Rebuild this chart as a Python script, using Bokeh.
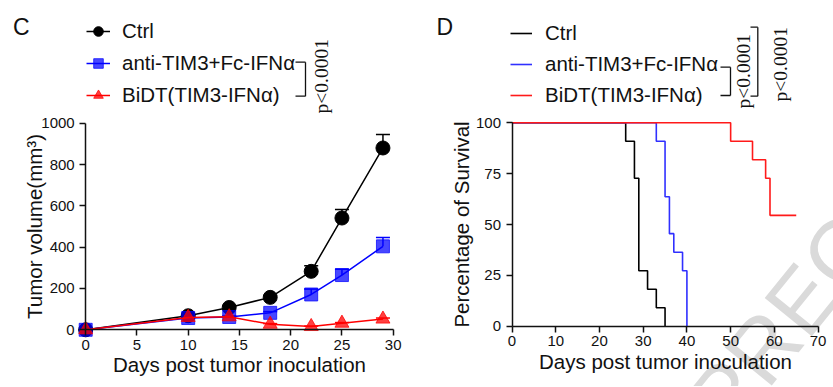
import math
from bokeh.plotting import figure
from bokeh.layouts import row
from bokeh.models import (ColumnDataSource, Whisker, TeeHead, Legend, LegendItem,
                          Label, Arrow, FixedTicker, Range1d)
from bokeh.embed import file_html
from bokeh.resources import INLINE

# ---------------- data ----------------
series_labels = ["Ctrl", "anti-TIM3+Fc-IFNα", "BiDT(TIM3-IFNα)"]

days = [0, 10, 14, 18, 22, 25, 29]
ctrl_vol = [0, 68, 108, 157, 283, 541, 880]
ctrl_sem = [0, 4, 6, 9, 27, 41, 65]
anti_vol = [0, 57, 62, 82, 171, 265, 404]
anti_sem = [0, 3, 4, 6, 26, 28, 43]
bidt_vol = [0, 60, 63, 27, 16, 32, 52]
bidt_sem = [0, 3, 4, 3, 2, 3, 5]

ctrl_t = [0, 26, 28, 29, 31, 33, 35]
ctrl_s = [100, 90.9, 72.7, 27.3, 18.2, 9.1, 0]
anti_t = [0, 33, 35, 36, 37, 39, 40]
anti_s = [100, 90.9, 63.6, 45.5, 36.4, 27.3, 0]
bidt_t = [0, 50, 55, 58, 59, 65]
bidt_s = [100, 90.9, 81.8, 72.7, 54.5, 54.5]

tumor_x_ticks = [0, 5, 10, 15, 20, 25, 30]
tumor_y_ticks = [0, 200, 400, 600, 800, 1000]
surv_x_ticks = [0, 10, 20, 30, 40, 50, 60, 70]
surv_y_ticks = [0, 25, 50, 75, 100]
p_text = "p<0.0001"

FONT = "Liberation Sans"
SERIF = "Liberation Serif"
INK = "#111111"
H = 386  # figure height (frame fills the whole figure)


def h_range(size, pa, va, pb, vb):
    """x range whose ends sit at the figure edges (value va at pixel pa, vb at pb)."""
    k = (vb - va) / (pb - pa)
    return (va - pa * k, va + (size - pa) * k)


def v_range(size, pa, va, pb, vb):
    """y range whose ends sit at the figure edges (pixels counted from the top)."""
    k = (vb - va) / (pa - pb)
    return (va - (size - pa) * k, va + pa * k)


def make_fig(w, xr, yr):
    p = figure(x_range=Range1d(*xr), y_range=Range1d(*yr), width=w, height=H,
               min_border=0, output_backend="svg", toolbar_location=None, tools="")
    p.outline_line_color = None
    p.grid.visible = False
    for ax in (p.xaxis[0], p.yaxis[0]):
        ax.fixed_location = 0
        ax.axis_line_width = 1.5
        ax.axis_line_color = INK
        ax.major_tick_line_width = 1.5
        ax.major_tick_line_color = INK
        ax.major_tick_out = 6
        ax.major_tick_in = 0
        ax.minor_tick_line_color = None
        ax.major_label_text_font = FONT
        ax.major_label_text_font_size = "15px"
        ax.major_label_text_color = INK
        ax.axis_label_text_font = FONT
        ax.axis_label_text_font_size = "20.5px"
        ax.axis_label_text_font_style = "normal"
        ax.axis_label_text_color = INK
    return p


def add_label(p, x, y, text, size, font=FONT, angle=0.0, align="left",
              baseline="alphabetic", color=INK, level="annotation"):
    # x, y: pixels from the figure's left / top
    p.add_layout(Label(x=x, y=H - y, x_units="screen", y_units="screen", text=text,
                       text_font=font, text_font_size=size, angle=angle,
                       text_align=align, text_baseline=baseline,
                       text_color=color, level=level))


def add_bracket(p, pts):
    for (x0, y0), (x1, y1) in zip(pts[:-1], pts[1:]):
        p.add_layout(Arrow(start=None, end=None, x_start=x0, y_start=H - y0,
                           x_end=x1, y_end=H - y1, start_units="screen",
                           end_units="screen", line_color=INK, line_width=1.3))


# ---------------- panel C: tumor volume (figure at page x 0) ----------------
W1 = 420
p1 = make_fig(W1, h_range(W1, 85.2, 0, 392.7, 30), v_range(H, 329.3, 0, 122.7, 1000))
p1.xaxis[0].bounds = (0, 30)
p1.yaxis[0].bounds = (0, 1000)
p1.xaxis[0].ticker = FixedTicker(ticks=tumor_x_ticks)
p1.yaxis[0].ticker = FixedTicker(ticks=tumor_y_ticks)
p1.xaxis[0].axis_label = "Days post tumor inoculation"
p1.yaxis[0].axis_label = "Tumor volume(mm³)"
p1.xaxis[0].major_label_standoff = 4
p1.xaxis[0].axis_label_standoff = 0
p1.yaxis[0].major_label_standoff = 5
p1.yaxis[0].axis_label_standoff = -8

styles = [
    ("#000000", "circle", 14, 1.0),
    ("#0000ff", "square", 13, 0.72),
    ("#ff0000", "triangle", 14, 0.75),
]
items1 = []
for vol, sem, (c, mk, sz, al), lab in zip([ctrl_vol, anti_vol, bidt_vol],
                                          [ctrl_sem, anti_sem, bidt_sem],
                                          styles, series_labels):
    src = ColumnDataSource(dict(x=days, y=vol, up=[v + e for v, e in zip(vol, sem)]))
    p1.add_layout(Whisker(base="x", upper="up", lower="y", source=src,
                          line_color=c, line_width=1.5, lower_head=None,
                          upper_head=TeeHead(size=14, line_color=c, line_width=1.5)))
    lr = p1.line("x", "y", source=src, line_color=c, line_width=1.5)
    sr = p1.scatter("x", "y", source=src, marker=mk, size=sz, fill_color=c,
                    fill_alpha=al, line_color=c, line_alpha=al)
    items1.append(LegendItem(label=lab, renderers=[lr, sr]))

leg1 = Legend(items=items1, location=(86, H - 107), glyph_width=24, glyph_height=24,
              label_height=24, spacing=8, padding=0, margin=0, label_standoff=12,
              border_line_color=None, background_fill_alpha=0,
              label_text_font=FONT, label_text_font_size="20.5px",
              label_text_color=INK)
p1.add_layout(leg1)

add_label(p1, 12.5, 26, "C", "23px")
add_label(p1, 321, 75.8, p_text, "19.5px", font=SERIF, angle=math.pi / 2,
          align="center", baseline="middle")
add_bracket(p1, [(295, 61.7), (305, 61.7), (305, 95.7), (295, 95.7)])

# ---------------- panel D: survival (figure at page x 420) ----------------
W2 = 413
p2 = make_fig(W2, h_range(W2, 91.5, 0, 397.6, 70), v_range(H, 325.8, 0, 122.2, 100))
p2.xaxis[0].bounds = (0, 70)
p2.yaxis[0].bounds = (0, 100)
p2.xaxis[0].ticker = FixedTicker(ticks=surv_x_ticks)
p2.yaxis[0].ticker = FixedTicker(ticks=surv_y_ticks)
p2.xaxis[0].axis_label = "Days post tumor inoculation"
p2.yaxis[0].axis_label = "Percentage of Survival"
p2.xaxis[0].major_label_standoff = 4
p2.xaxis[0].axis_label_standoff = 0
p2.yaxis[0].major_label_standoff = 5
p2.yaxis[0].axis_label_standoff = 0

add_label(p2, 286, 417, "PREC", "88px", angle=0.89, color="#dadada", level="underlay")

items2 = []
for t, s, c, lab in zip([ctrl_t, anti_t, bidt_t], [ctrl_s, anti_s, bidt_s],
                        ["#000000", "#3030ff", "#ff1a1a"], series_labels):
    r = p2.step(t, s, mode="after", line_color=c, line_width=1.6)
    items2.append(LegendItem(label=lab, renderers=[r]))

leg2 = Legend(items=items2, location=(90, H - 107.3), glyph_width=22, glyph_height=24,
              label_height=24, spacing=7, padding=0, margin=0, label_standoff=13,
              border_line_color=None, background_fill_alpha=0,
              label_text_font=FONT, label_text_font_size="20.5px",
              label_text_color=INK)
p2.add_layout(leg2)

add_label(p2, 16, 26.7, "D", "23px")
add_label(p2, 323.3, 70.8, p_text, "19.5px", font=SERIF, angle=math.pi / 2,
          align="center", baseline="middle")
add_label(p2, 360, 63.8, p_text, "19.5px", font=SERIF, angle=math.pi / 2,
          align="center", baseline="middle")
add_bracket(p2, [(300, 66.7), (310, 66.7), (310, 95), (300, 95)])
add_bracket(p2, [(330, 26.7), (337.3, 26.7), (337.3, 95.7), (330, 95.7)])

layout = row(p1, p2)
open("out.html", "w").write(file_html(layout, INLINE))
